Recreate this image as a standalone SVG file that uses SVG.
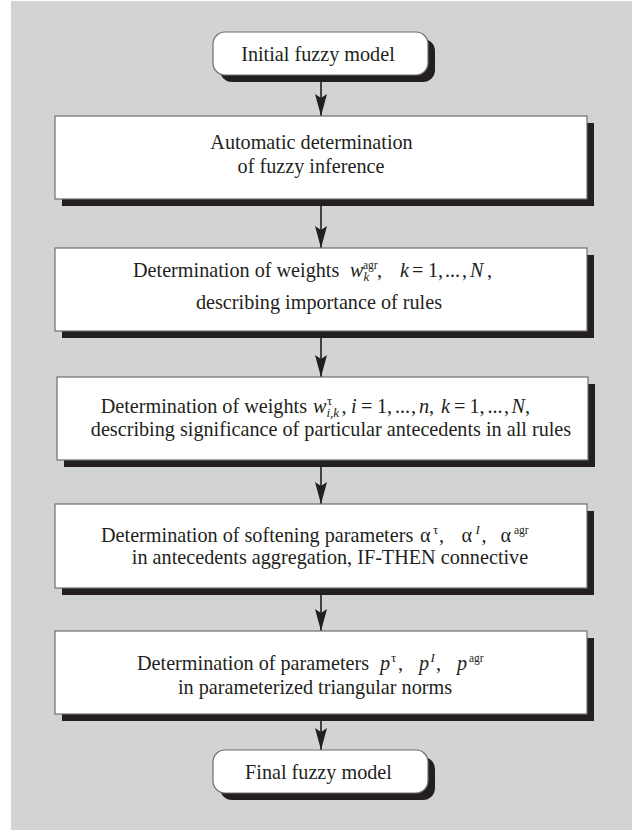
<svg xmlns="http://www.w3.org/2000/svg" width="632" height="831" viewBox="0 0 632 831">
<style>
.bg{fill:#d1d3d4}
.shadow{fill:#231f20}
.box{fill:#ffffff;stroke:#6d6e71;stroke-width:1.2}
text{font-family:"Liberation Serif","Times New Roman",serif;font-size:20.2px;fill:#231f20}
.c{text-anchor:middle}
.it{font-style:italic}
.sm{font-size:13px}
.xs{font-size:11.5px}
#connectors line{stroke:#231f20;stroke-width:1.6;marker-end:url(#ah)}
</style>
<defs>
<marker id="ah" markerUnits="userSpaceOnUse" viewBox="0 0 22 12" refX="22" refY="6" markerWidth="22" markerHeight="12" orient="auto">
<path d="M0,0 L22,6 L0,12 L4,6 Z" fill="#231f20"/>
</marker>
</defs>
<rect class="bg" x="11" y="1" width="621" height="829"/>
<g id="connectors">
<line x1="321" y1="75" x2="321" y2="116"/>
<line x1="321" y1="199" x2="321" y2="248"/>
<line x1="321" y1="331" x2="321" y2="377"/>
<line x1="321" y1="460" x2="321" y2="504"/>
<line x1="321" y1="588" x2="321" y2="631"/>
<line x1="321" y1="714" x2="321" y2="750"/>
</g>
<g id="initial">
<rect class="shadow" x="220" y="39" width="215" height="43" rx="12"/>
<rect class="box" x="213" y="32" width="215" height="43" rx="12"/>
<text class="c" x="318" y="60.5">Initial fuzzy model</text>
</g>
<g id="step1">
<rect class="shadow" x="62" y="123" width="532" height="83"/>
<rect class="box" x="55" y="116" width="532" height="83"/>
<text class="c" x="311.5" y="149">Automatic determination</text>
<text class="c" x="311" y="173">of fuzzy inference</text>
</g>
<g id="step2">
<rect class="shadow" x="62" y="255" width="532" height="83"/>
<rect class="box" x="55" y="248" width="532" height="83"/>
<text y="276.5"><tspan x="133">Determination of weights</tspan><tspan x="350" class="it">w</tspan><tspan x="363.5" y="280.5" class="it sm">k</tspan><tspan x="363" y="268.5" class="xs">agr</tspan><tspan x="377" y="276.5">,</tspan><tspan x="400" class="it">k</tspan><tspan x="412">=</tspan><tspan x="428">1,</tspan><tspan x="445">...</tspan><tspan x="462">,</tspan><tspan x="470" class="it">N</tspan><tspan x="487">,</tspan></text>
<text class="c" x="319" y="309">describing importance of rules</text>
</g>
<g id="step3">
<rect class="shadow" x="64" y="384" width="531" height="83"/>
<rect class="box" x="57" y="377" width="531" height="83"/>
<text y="413"><tspan x="100.7">Determination of weights</tspan><tspan x="313" class="it">w</tspan><tspan x="327" y="404.5" class="sm">τ</tspan><tspan x="326.5" y="417" class="it sm">i,k</tspan><tspan x="341.5" y="413">,</tspan><tspan x="351" class="it">i</tspan><tspan x="361">=</tspan><tspan x="377">1,</tspan><tspan x="395">...</tspan><tspan x="411">,</tspan><tspan x="419" class="it">n</tspan><tspan x="429">,</tspan><tspan x="441" class="it">k</tspan><tspan x="454">=</tspan><tspan x="469.5">1,</tspan><tspan x="487.5">...</tspan><tspan x="504">,</tspan><tspan x="511.5" class="it">N</tspan><tspan x="525">,</tspan></text>
<text class="c" x="331" y="436">describing significance of particular antecedents in all rules</text>
</g>
<g id="step4">
<rect class="shadow" x="62" y="511" width="532" height="84"/>
<rect class="box" x="55" y="504" width="532" height="84"/>
<text y="541.7"><tspan x="101">Determination of softening parameters</tspan><tspan x="420">α</tspan><tspan x="433" y="533.5" class="sm">τ</tspan><tspan x="439" y="541.7">,</tspan><tspan x="461.5">α</tspan><tspan x="475.5" y="533.5" class="it sm">I</tspan><tspan x="481.5" y="541.7">,</tspan><tspan x="500.5">α</tspan><tspan x="514" y="533.5" class="xs">agr</tspan></text>
<text class="c" x="330" y="564">in antecedents aggregation, IF-THEN connective</text>
</g>
<g id="step5">
<rect class="shadow" x="62" y="638" width="532" height="83"/>
<rect class="box" x="55" y="631" width="532" height="83"/>
<text y="670"><tspan x="137">Determination of parameters</tspan><tspan x="380" class="it">p</tspan><tspan x="391" y="662" class="sm">τ</tspan><tspan x="398" y="670">,</tspan><tspan x="419" class="it">p</tspan><tspan x="430.5" y="662" class="it sm">I</tspan><tspan x="436" y="670">,</tspan><tspan x="457" class="it">p</tspan><tspan x="469" y="662" class="xs">agr</tspan></text>
<text class="c" x="315" y="694">in parameterized triangular norms</text>
</g>
<g id="final">
<rect class="shadow" x="220" y="757" width="215" height="43" rx="12"/>
<rect class="box" x="213" y="750" width="215" height="43" rx="12"/>
<text class="c" x="318.5" y="779">Final fuzzy model</text>
</g>
</svg>
